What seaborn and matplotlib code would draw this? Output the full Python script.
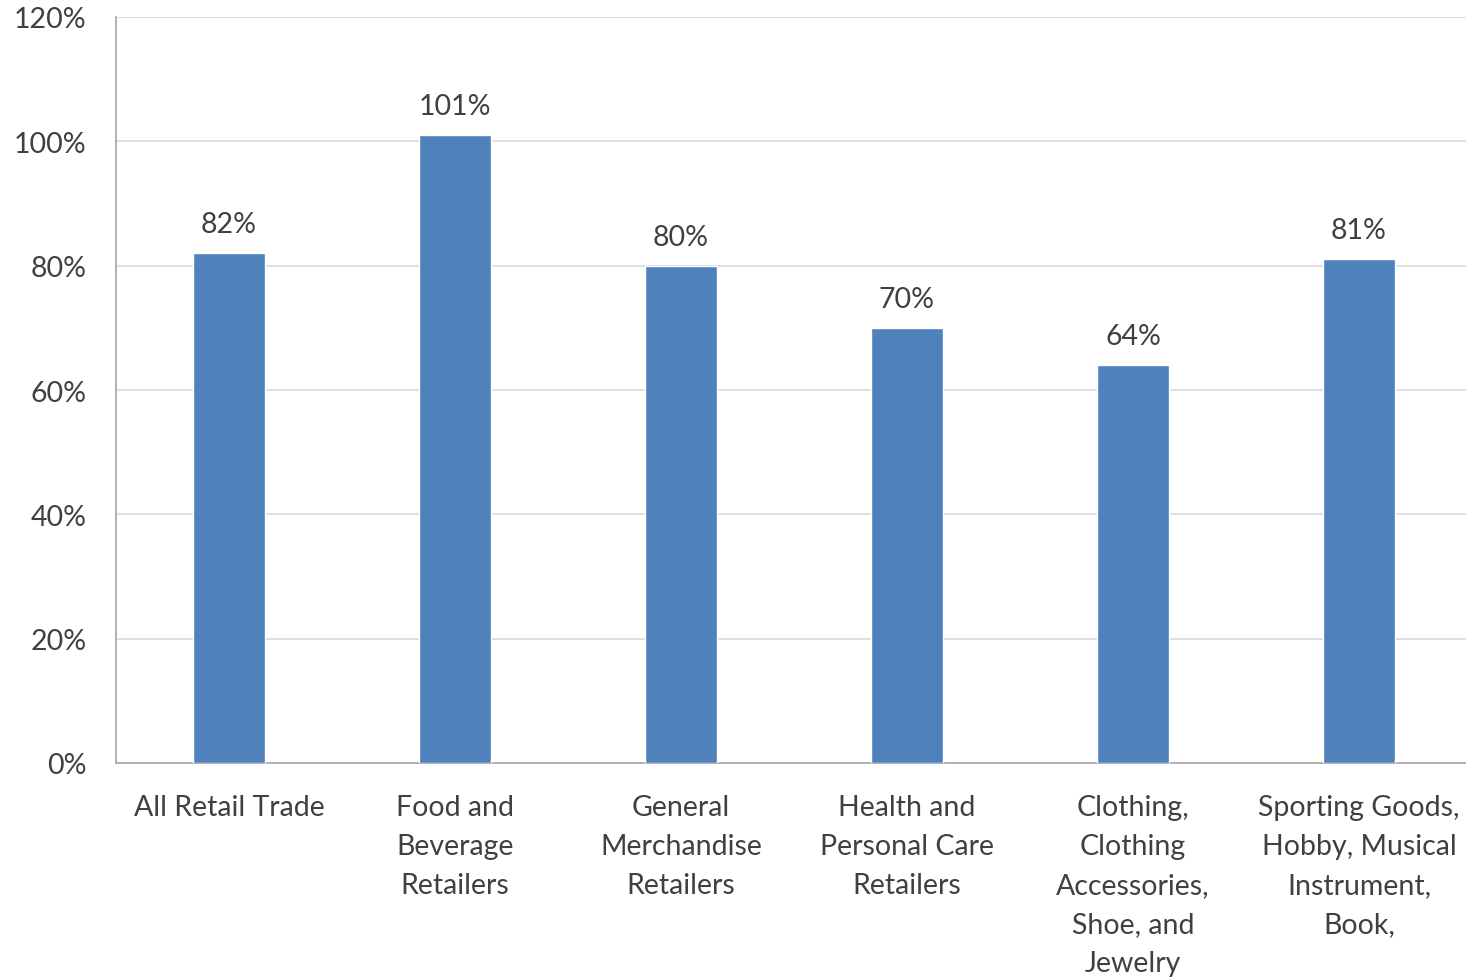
import matplotlib
matplotlib.use("Agg")
import matplotlib.pyplot as plt
import seaborn as sns
import pandas as pd
from matplotlib.ticker import FuncFormatter

categories = [
    "All Retail Trade",
    "Food and\nBeverage\nRetailers",
    "General\nMerchandise\nRetailers",
    "Health and\nPersonal Care\nRetailers",
    "Clothing,\nClothing\nAccessories,\nShoe, and\nJewelry",
    "Sporting Goods,\nHobby, Musical\nInstrument,\nBook,",
]
values = [82, 101, 80, 70, 64, 81]
value_labels = ["82%", "101%", "80%", "70%", "64%", "81%"]

sns.set_theme(style="white")
plt.rcParams['font.family'] = ['Lato', 'DejaVu Sans']

df = pd.DataFrame({"cat": categories, "val": values})

fig = plt.figure(figsize=(14.66, 9.78), dpi=100)
ax = fig.add_axes([116/1466, 1-764/978, (1472-116)/1466, (764-18)/978])

text_color = "#404040"
sns.barplot(data=df, x="cat", y="val", color="#4F81BD", width=0.32,
            saturation=1, ax=ax, zorder=3)

ax.set_ylim(0, 120)
ax.set_xlim(-0.5, 5.5)
ax.set_yticks(range(0, 121, 20))
ax.yaxis.set_major_formatter(FuncFormatter(lambda v, p: f"{int(v)}%"))
ax.grid(axis="y", color="#D9D9D9", linewidth=1.2, zorder=0)
ax.set_axisbelow(True)
ax.set_xlabel("")
ax.set_ylabel("")

for s in ["top", "right"]:
    ax.spines[s].set_visible(False)
for s in ["left", "bottom"]:
    ax.spines[s].set_color("#A6A6A6")
    ax.spines[s].set_linewidth(1.2)

ax.tick_params(axis="both", length=0, labelsize=20.5, colors=text_color)
ax.tick_params(axis="y", pad=21)
ax.tick_params(axis="x", pad=22)
for lbl in ax.get_xticklabels():
    lbl.set_linespacing(1.63)
    lbl.set_verticalalignment("top")

for i, (v, t) in enumerate(zip(values, value_labels)):
    ax.text(i, v + 2.6, t, ha="center", va="bottom", fontsize=20.5, color=text_color)

fig.savefig("out.png", dpi=100)
